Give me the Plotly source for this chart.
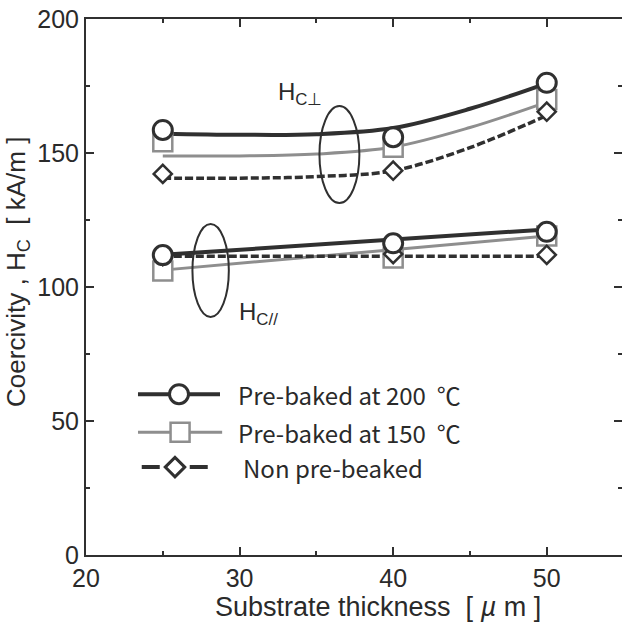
import plotly.graph_objects as go

# ---------------- data ----------------
thickness = [25, 40, 50]                 # µm, measured points
fit_x = [25, 30, 35, 40, 45, 50]         # x positions of the drawn trend curves

# Hc perpendicular: measured markers
perp_200 = [158.6, 155.9, 176.2]
perp_150 = [154.2, 152.1, 170.0]
perp_non = [142.2, 143.4, 165.4]
# Hc perpendicular: trend curves
perp_200_fit = [157.2, 156.8, 157.0, 159.3, 166.5, 176.0]
perp_150_fit = [148.9, 148.9, 149.6, 152.2, 159.5, 169.0]
perp_non_fit = [140.6, 140.6, 141.2, 143.4, 152.0, 164.0]

# Hc parallel: measured markers
par_200 = [111.9, 116.3, 120.6]
par_150 = [106.0, 110.8, 119.0]
par_non = [111.5, 112.3, 112.0]
# Hc parallel: trend lines (end points)
line_x = [25, 50]
par_200_fit = [112.0, 121.5]
par_150_fit = [106.3, 119.0]
par_non_fit = [111.5, 111.5]

series_names = ["Pre-baked at 200\u00a0\u00a0℃", "Pre-baked at 150\u00a0\u00a0℃", "Non pre-beaked"]

x_ticks = [20, 30, 40, 50]
y_ticks = [0, 50, 100, 150, 200]

# ---------------- styles ----------------
DARK = "#303030"
GRAY = "#8e8e8e"
TXT = "#2a2a2a"
DASH = "8px,3px"
FONT = "Liberation Sans, Arial, sans-serif"
LFONT = "Noto Sans CJK JP, sans-serif"

fig = go.Figure()

def curve(x, y, color, width, dash="solid", shape="spline"):
    fig.add_trace(go.Scatter(x=x, y=y, mode="lines", showlegend=False, hoverinfo="skip",
                             line=dict(color=color, width=width, dash=dash, shape=shape, smoothing=1.0)))

def marks(x, y, symbol, size, color, lw):
    fig.add_trace(go.Scatter(x=x, y=y, mode="markers", showlegend=False,
                             marker=dict(symbol=symbol, size=size, color="white",
                                         line=dict(color=color, width=lw))))

# trend curves
curve(fit_x, perp_150_fit, GRAY, 3)
curve(fit_x, perp_non_fit, DARK, 3.5, DASH)
curve(fit_x, perp_200_fit, DARK, 4)
curve(line_x, par_150_fit, GRAY, 3, shape="linear")
curve(line_x, par_non_fit, DARK, 3.5, DASH, shape="linear")
curve(line_x, par_200_fit, DARK, 4, shape="linear")

# markers
marks(thickness, perp_150, "square", 19, GRAY, 2.5)
marks(thickness, par_150, "square", 19, GRAY, 2.5)
marks(thickness, perp_non, "diamond", 14, DARK, 2.5)
marks(thickness, par_non, "diamond", 14, DARK, 2.5)
marks(thickness, perp_200, "circle", 19, DARK, 3)
marks(thickness, par_200, "circle", 19, DARK, 3)

# invisible trace so the right-hand tick axis is drawn
fig.add_trace(go.Scatter(x=[thickness[0]], y=[perp_200[0]], mode="markers", yaxis="y3",
                         marker=dict(opacity=0), showlegend=False, hoverinfo="skip"))

# ---------------- hand-drawn style legend on an overlay axis (paper-like 0..1) ----------------
leg_rows = [0.300, 0.229, 0.164]
leg_styles = [
    dict(line=dict(color=DARK, width=4), sym="circle", size=19, mcol=DARK, lw=3, x0=0.097, x1=0.250),
    dict(line=dict(color=GRAY, width=3), sym="square", size=19, mcol=GRAY, lw=2.5, x0=0.097, x1=0.254),
    dict(line=dict(color=DARK, width=4, dash="18px,30px,18px"), sym="diamond", size=15, mcol=DARK, lw=3,
         x0=0.104, x1=0.228),
]
leg_text_x = [0.280, 0.280, 0.290]
for row, st, name, tx in zip(leg_rows, leg_styles, series_names, leg_text_x):
    fig.add_trace(go.Scatter(x=[st["x0"], st["x1"]], y=[row, row], mode="lines", line=st["line"],
                             xaxis="x2", yaxis="y2", showlegend=False, hoverinfo="skip"))
    xm = (st["x0"] + st["x1"]) / 2
    fig.add_trace(go.Scatter(x=[xm], y=[row], mode="markers", xaxis="x2", yaxis="y2",
                             showlegend=False, hoverinfo="skip",
                             marker=dict(symbol=st["sym"], size=st["size"], color="white",
                                         line=dict(color=st["mcol"], width=st["lw"]))))
    fig.add_annotation(xref="paper", yref="paper", x=tx, y=row, text=name, showarrow=False,
                       xanchor="left", yanchor="middle",
                       font=dict(family=LFONT, size=24, color=TXT))

# ---------------- ellipses & labels ----------------
fig.add_shape(type="circle", xref="x", yref="y", x0=35.2, x1=37.8, y0=131.3, y1=167.5,
              line=dict(color=DARK, width=2))
fig.add_shape(type="circle", xref="x", yref="y", x0=26.93, x1=29.3, y0=88.8, y1=123.5,
              line=dict(color=DARK, width=2))
fig.add_annotation(x=32.4, y=165.5, xref="x", yref="y", text="H<sub>C⊥</sub>", showarrow=False,
                   xanchor="left", yanchor="bottom", font=dict(family=FONT, size=24, color=TXT))
fig.add_annotation(x=29.85, y=96.5, xref="x", yref="y", text="H<sub>C//</sub>", showarrow=False,
                   xanchor="left", yanchor="top", font=dict(family=FONT, size=24, color=TXT))

# axis titles
fig.add_annotation(xref="paper", yref="paper", x=0.544, y=-0.097,
                   text="Substrate thickness\u00a0\u00a0[\u00a0<i>µ</i>\u00a0m ]",
                   showarrow=False, xanchor="center", yanchor="middle",
                   font=dict(family=FONT, size=27, color=TXT))
fig.add_annotation(xref="paper", yref="paper", x=-0.127, y=0.528,
                   text="Coercivity , H<sub>C</sub>\u00a0\u00a0[ kA/m ]", textangle=-90,
                   showarrow=False, xanchor="center", yanchor="middle",
                   font=dict(family=FONT, size=26, color=TXT))

tick_common = dict(ticks="inside", ticklen=8, tickwidth=1.5, tickcolor=DARK,
                   tickfont=dict(family=FONT, size=25, color=TXT))
fig.update_layout(
    width=622, height=626,
    margin=dict(l=86, r=0, t=19, b=71),
    paper_bgcolor="white", plot_bgcolor="white",
    showlegend=False,
    xaxis=dict(range=[20, 54.9], tickvals=x_ticks, mirror="ticks", showgrid=False, zeroline=False,
               showline=True, linecolor=DARK, linewidth=2,
               minor=dict(ticks="inside", ticklen=4, tickwidth=1.5, tickcolor=DARK, dtick=5, tick0=20),
               **tick_common),
    yaxis=dict(range=[0, 200], tickvals=y_ticks, showgrid=False, zeroline=False,
               showline=True, linecolor=DARK, linewidth=2,
               minor=dict(ticks="inside", ticklen=4, tickwidth=1.5, tickcolor=DARK, dtick=25, tick0=0),
               **tick_common),
    yaxis3=dict(range=[0, 200], overlaying="y", side="right", anchor="x", showline=False,
                showgrid=False, zeroline=False, showticklabels=False, tickvals=y_ticks,
                ticks="inside", ticklen=8, tickwidth=1.5, tickcolor=DARK,
                minor=dict(ticks="inside", ticklen=4, tickwidth=1.5, tickcolor=DARK, dtick=25, tick0=0)),
    xaxis2=dict(range=[0, 1], overlaying="x", visible=False),
    yaxis2=dict(range=[0, 1], overlaying="y", visible=False),
)

# the page body has a default 8px margin; remove it so the figure fills the window
fig.write_html("out.html", config={"displayModeBar": False},
               post_script="document.body.style.margin='0';document.body.style.padding='0';")
